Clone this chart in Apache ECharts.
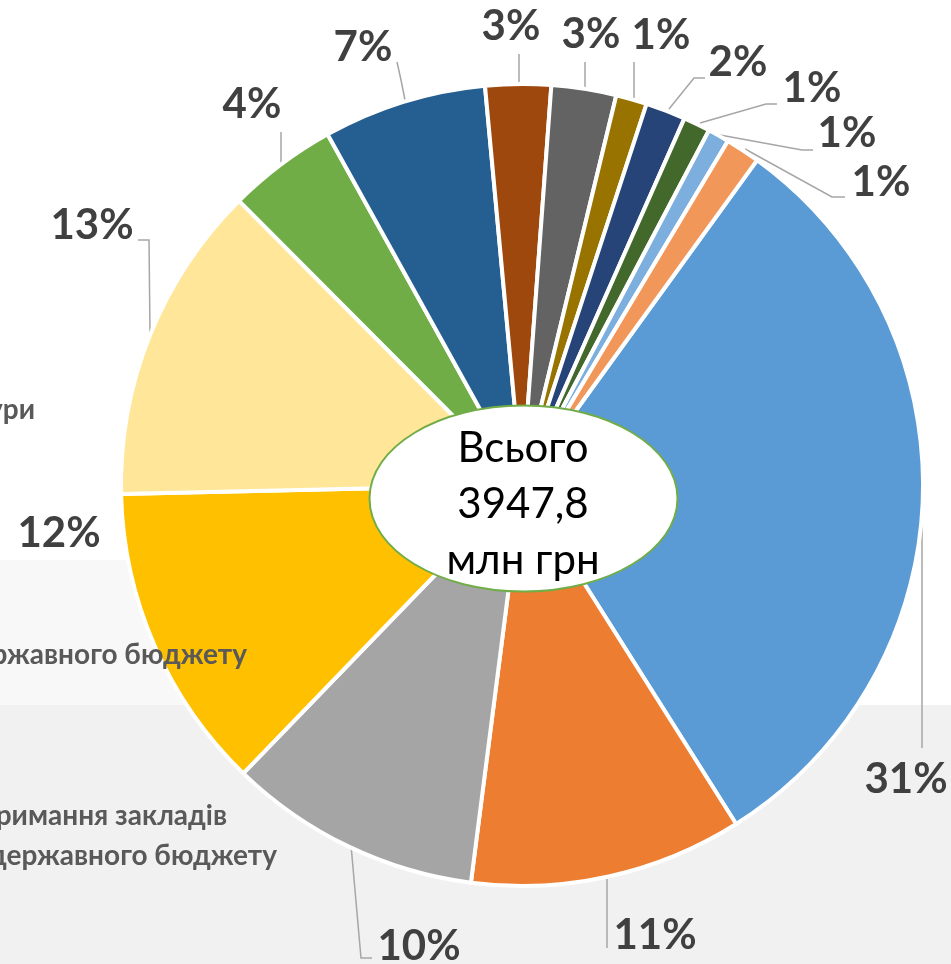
<!DOCTYPE html>
<html><head><meta charset="utf-8">
<script src="https://cdn.jsdelivr.net/npm/echarts@6/dist/echarts.min.js"></script>
<style>html,body{margin:0;padding:0;background:#fff;overflow:hidden}#c{width:951px;height:964px}</style>
</head><body><div id="c"></div>
<script>
// Categories (clockwise, starting from the largest slice)
const categories = [
  "Стаття 1", "Стаття 2", "Стаття 3", "Стаття 4", "Стаття 5", "Стаття 6", "Стаття 7",
  "Стаття 8", "Стаття 9", "Стаття 10", "Стаття 11", "Стаття 12", "Стаття 13", "Стаття 14"
];
// Values, млн грн (total 3947,8)
const values = [1226.2, 434.3, 402.5, 490.0, 509.0, 174.0, 260.0, 104.2, 103.1, 49.3, 63.6, 42.8, 34.0, 54.8];
const totalLines = ["Всього", "3947,8", "млн грн"];
const legendFragments = ["ури", "ржавного бюджету", "римання закладів", "державного бюджету"];

// styles / positions (not data)
const colors = ["#5B9BD5", "#ED7D31", "#A5A5A5", "#FFC000", "#FFE699", "#70AD47", "#255E91",
  "#9E480E", "#636363", "#997300", "#264478", "#43682B", "#7CAFDD", "#F1975A"];
const labelPos = [[906,779],[655,935],[419,946],[59,533],[92,225],[252,104],[363,47],
  [511,26],[591,34],[661,35],[738,62],[812,88],[847,133],[881,182]];
const leader = [
  [[922,482],[922,600],[922,748]],
  [[607,875],[607,900],[607,948]],
  [[351,845],[361,958],[372,958]],
  null,
  [[150,333],[149,240],[138,240]],
  [[281,163],[281,150],[281,132]],
  [[405,100],[401,80],[397,62]],
  [[519,82],[519,70],[519,54]],
  [[585,87],[585,75],[585,62]],
  [[634,98],[634,80],[634,62]],
  [[669,109],[694,78],[705,78]],
  [[700,123],[766,104],[777,104]],
  [[720,135],[802,150],[813,150]],
  [[745,149],[832,197],[845,197]]
];
const total = values.reduce((a,b)=>a+b,0);

const chart = echarts.init(document.getElementById('c'), null, {renderer:'canvas'});
const data = categories.map((n,i)=>({
  name:n, value:values[i],
  itemStyle:{color:colors[i]},
  labelLine:{show: leader[i] !== null}
}));

const fragPos = [[35,410],[247,655],[227,816],[277,856]];
const graphics = [
  {type:'rect', z:-10, silent:true, shape:{x:0,y:705,width:951,height:259}, style:{fill:'#f1f1f1'}},
  {type:'rect', z:-10, silent:true, shape:{x:0,y:560,width:250,height:145}, style:{fill:'#f8f8f8'}},
  {type:'ellipse', z:100, shape:{cx:523.5, cy:498.5, rx:154, ry:93}, style:{fill:'#ffffff', stroke:'#70AD47', lineWidth:2}}
];
totalLines.forEach((t,i)=>{
  graphics.push({type:'text', z:101, style:{text:t, x:523, y:448+i*56, align:'center', verticalAlign:'middle',
    font:'400 42px Lato, "Open Sans", sans-serif', fill:'#000000'}});
});
legendFragments.forEach((t,i)=>{
  graphics.push({type:'text', z:5, style:{text:t, x:fragPos[i][0], y:fragPos[i][1], align:'right', verticalAlign:'middle',
    font:'700 28px Lato, "Open Sans", sans-serif', fill:'#595959'}});
});

chart.setOption({
  backgroundColor:'#ffffff',
  animation:false,
  graphic: graphics,
  series:[{
    type:'pie',
    center:[522,485],
    radius:401,
    startAngle:54.1,
    clockwise:true,
    avoidLabelOverlap:false,
    data:data,
    itemStyle:{borderColor:'#ffffff', borderWidth:4},
    label:{
      show:true, position:'outside',
      formatter:(p)=>Math.round(p.value/total*100)+'%',
      fontFamily:'Lato, "Open Sans", sans-serif', fontWeight:700, fontSize:42, color:'#404040'
    },
    labelLine:{show:true, lineStyle:{color:'#A6A6A6', width:1.5}},
    labelLayout:(p)=>{
      const i = p.dataIndex;
      const o = {x:labelPos[i][0], y:labelPos[i][1], align:'center', verticalAlign:'middle', moveOverlap:null, hideOverlap:false};
      if (leader[i]) o.labelLinePoints = leader[i];
      return o;
    }
  }]
});
</script></body></html>
